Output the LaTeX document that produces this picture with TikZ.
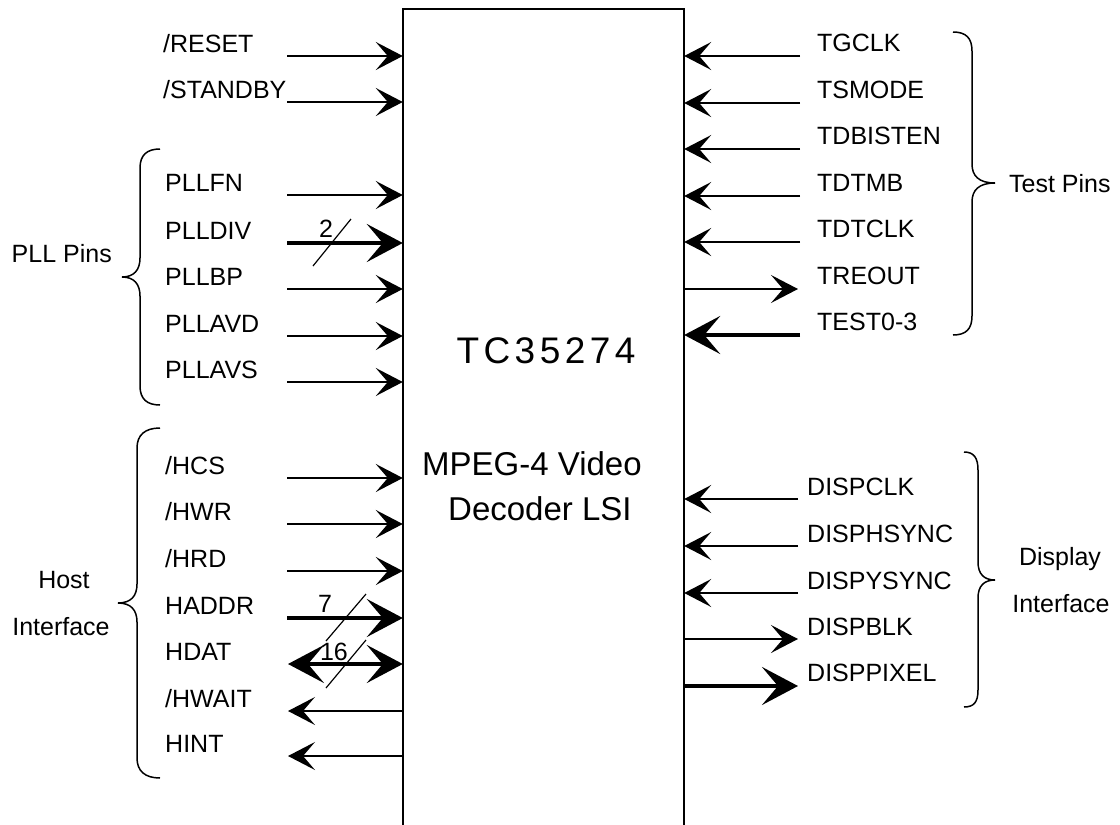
\documentclass[tikz,border=0pt]{standalone}
\usepackage{fontspec}
\setmainfont{Liberation Sans}
\usetikzlibrary{arrows.meta}
\begin{document}
\begin{tikzpicture}[x=1pt,y=-1pt,
  lbl/.style={font=\fontsize{25}{30}\selectfont, inner sep=0pt},
  lw/.style={lbl, anchor=base west},
  sig/.style={line width=1.5pt, -{Stealth[length=27pt,width=28pt,inset=12pt]}},
  bus/.style={line width=4pt, -{Stealth[length=36pt,width=38pt,inset=16pt]}},
  busb/.style={line width=4pt, {Stealth[length=36pt,width=38pt,inset=16pt]}-{Stealth[length=36pt,width=38pt,inset=16pt]}},
  tick/.style={line width=1.2pt},
  brace/.style={line width=1.5pt},
]
\useasboundingbox (0,0) rectangle (1120,825);

% chip
\node[minimum width=281pt, minimum height=816pt, inner sep=0pt] (chip) at (543.5,417) {};
\draw[line width=1.5pt] (chip.south west) -- (chip.north west) -- (chip.north east) -- (chip.south east);
\draw[line width=1pt, black!12] (chip.south west) -- (chip.south east);
\node[font=\fontsize{37}{40}\selectfont\addfontfeature{LetterSpace=12}, anchor=base, inner sep=0pt] (part) at (546,363) {TC35274};
\node[font=\fontsize{33}{36}\selectfont, anchor=base west, inner sep=0pt] (mpeg) at (422,475) {MPEG-4 Video};
\node[font=\fontsize{33}{36}\selectfont, anchor=base west, inner sep=0pt] (lsi) at (448,520) {Decoder LSI};

% left side inputs
\coordinate (reset-e) at (287,56);
\coordinate (standby-e) at (287,102);
\coordinate (pllfn-e) at (287,195);
\coordinate (plldiv-e) at (287,243);
\coordinate (pllbp-e) at (287,289);
\coordinate (pllavd-e) at (287,336);
\coordinate (pllavs-e) at (287,382);
\coordinate (hcs-e) at (287,478);
\coordinate (hwr-e) at (287,524);
\coordinate (hrd-e) at (287,571);
\coordinate (haddr-e) at (287,618);
\coordinate (hdat-e) at (288,664);
\coordinate (hwait-e) at (288,711);
\coordinate (hint-e) at (288,756);

\draw[sig] (reset-e) -- (reset-e -| chip.west);
\draw[sig] (standby-e) -- (standby-e -| chip.west);
\draw[sig] (pllfn-e) -- (pllfn-e -| chip.west);
\draw[bus] (plldiv-e) -- (plldiv-e -| chip.west);
\draw[sig] (pllbp-e) -- (pllbp-e -| chip.west);
\draw[sig] (pllavd-e) -- (pllavd-e -| chip.west);
\draw[sig] (pllavs-e) -- (pllavs-e -| chip.west);
\draw[sig] (hcs-e) -- (hcs-e -| chip.west);
\draw[sig] (hwr-e) -- (hwr-e -| chip.west);
\draw[sig] (hrd-e) -- (hrd-e -| chip.west);
\draw[bus] (haddr-e) -- (haddr-e -| chip.west);
\draw[busb] (hdat-e) -- (hdat-e -| chip.west);
\draw[sig] (hwait-e -| chip.west) -- (hwait-e);
\draw[sig] (hint-e -| chip.west) -- (hint-e);

\node[lw] (reset) at (163,52) {/RESET};
\node[lw] (standby) at (163,98) {/STANDBY};
\node[lw] (pllfn) at (165,191) {PLLFN};
\node[lw] (plldiv) at (165,239) {PLLDIV};
\node[lw] (pllbp) at (165,285) {PLLBP};
\node[lw] (pllavd) at (165,332) {PLLAVD};
\node[lw] (pllavs) at (165,378) {PLLAVS};
\node[lw] (hcs) at (165,474) {/HCS};
\node[lw] (hwr) at (165,520) {/HWR};
\node[lw] (hrd) at (165,567) {/HRD};
\node[lw] (haddr) at (165,614) {HADDR};
\node[lw] (hdat) at (165,660) {HDAT};
\node[lw] (hwait) at (165,707) {/HWAIT};
\node[lw] (hint) at (165,752) {HINT};

% bus width marks
\draw[tick] (313,266) -- (351,219);
\node[lbl, anchor=base] (w2) at (326,237) {2};
\draw[tick] (326,641) -- (366,594);
\node[lbl, anchor=base] (w7) at (325,612) {7};
\draw[tick] (326,688) -- (366,640);
\node[lbl, anchor=base] (w16) at (334,660) {16};

% right side: test pins
\coordinate (tgclk-e) at (800,56);
\coordinate (tsmode-e) at (800,103);
\coordinate (tdbisten-e) at (800,149);
\coordinate (tdtmb-e) at (800,196);
\coordinate (tdtclk-e) at (800,242);
\coordinate (treout-e) at (798,289);
\coordinate (test-e) at (800,335);

\draw[sig] (tgclk-e) -- (tgclk-e -| chip.east);
\draw[sig] (tsmode-e) -- (tsmode-e -| chip.east);
\draw[sig] (tdbisten-e) -- (tdbisten-e -| chip.east);
\draw[sig] (tdtmb-e) -- (tdtmb-e -| chip.east);
\draw[sig] (tdtclk-e) -- (tdtclk-e -| chip.east);
\draw[sig] (treout-e -| chip.east) -- (treout-e);
\draw[bus] (test-e) -- (test-e -| chip.east);

\node[lw] (tgclk) at (817,51) {TGCLK};
\node[lw] (tsmode) at (817,98) {TSMODE};
\node[lw] (tdbisten) at (817,144) {TDBISTEN};
\node[lw] (tdtmb) at (817,191) {TDTMB};
\node[lw] (tdtclk) at (817,237) {TDTCLK};
\node[lw] (treout) at (817,284) {TREOUT};
\node[lw] (test) at (817,330) {TEST0-3};

% right side: display
\coordinate (dispclk-e) at (798,499);
\coordinate (disphsync-e) at (798,546);
\coordinate (dispysync-e) at (798,593);
\coordinate (dispblk-e) at (798,639);
\coordinate (disppixel-e) at (798,686);

\draw[sig] (dispclk-e) -- (dispclk-e -| chip.east);
\draw[sig] (disphsync-e) -- (disphsync-e -| chip.east);
\draw[sig] (dispysync-e) -- (dispysync-e -| chip.east);
\draw[sig] (dispblk-e -| chip.east) -- (dispblk-e);
\draw[bus] (disppixel-e -| chip.east) -- (disppixel-e);

\node[lw] (dispclk) at (807,495) {DISPCLK};
\node[lw] (disphsync) at (807,542) {DISPHSYNC};
\node[lw] (dispysync) at (807,589) {DISPYSYNC};
\node[lw] (dispblk) at (807,635) {DISPBLK};
\node[lw] (disppixel) at (807,681) {DISPPIXEL};

% braces
\draw[brace] (160,149) .. controls (147,149) and (140,155) .. (140,168) -- (140,258)
  .. controls (140,270) and (134,277) .. (122,277) .. controls (134,277) and (140,284) .. (140,296)
  -- (140,386) .. controls (140,399) and (147,405) .. (160,405);
\draw[brace] (160,428) .. controls (145,428) and (137,435) .. (137,448) -- (137,584)
  .. controls (137,596) and (131,603) .. (118,603) .. controls (131,603) and (137,610) .. (137,622)
  -- (137,758) .. controls (137,771) and (145,778) .. (160,778);
\draw[brace] (953,32) .. controls (966,32) and (972,38) .. (972,51) -- (972,164)
  .. controls (972,176) and (979,183) .. (995,183) .. controls (979,183) and (972,190) .. (972,202)
  -- (972,316) .. controls (972,329) and (966,335) .. (953,335);
\draw[brace] (964,452) .. controls (974,452) and (978,458) .. (978,470) -- (978,562)
  .. controls (978,574) and (984,580) .. (995,580) .. controls (984,580) and (978,586) .. (978,598)
  -- (978,690) .. controls (978,702) and (974,707) .. (964,707);

% group labels
\node[lbl, anchor=base east] (pllpins) at (112,262) {PLL Pins};
\node[lbl, anchor=base] (host1) at (64,588) {Host};
\node[lbl, anchor=base] (host2) at (61,635) {Interface};
\node[lw] (testpins) at (1009,192) {Test Pins};
\node[lbl, anchor=base] (disp1) at (1060,565) {Display};
\node[lbl, anchor=base] (disp2) at (1061,612) {Interface};
\end{tikzpicture}
\end{document}
